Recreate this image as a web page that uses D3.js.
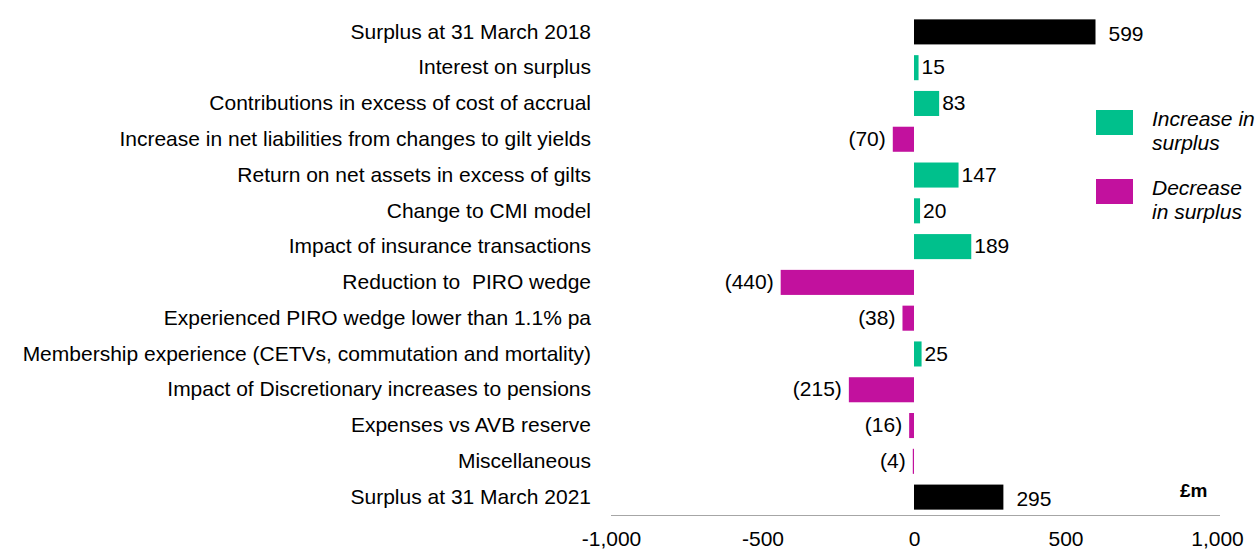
<!DOCTYPE html>
<meta charset="utf-8">
<style>
body { margin: 0; background: #fff; }
svg text { font-family: "Liberation Sans", Arial, sans-serif; fill: #000; }
.axis path { stroke: #a6a6a6; }
.axis text { font-size: 21px; }
</style>
<body>
<svg width="1256" height="550"></svg>
<script src="https://cdn.jsdelivr.net/npm/d3@7/dist/d3.min.js"></script>
<script>
// chart data
var categories = [
  "Surplus at 31 March 2018",
  "Interest on surplus",
  "Contributions in excess of cost of accrual",
  "Increase in net liabilities from changes to gilt yields",
  "Return on net assets in excess of gilts",
  "Change to CMI model",
  "Impact of insurance transactions",
  "Reduction to \u00a0PIRO wedge",
  "Experienced PIRO wedge lower than 1.1% pa",
  "Membership experience (CETVs, commutation and mortality)",
  "Impact of Discretionary increases to pensions",
  "Expenses vs AVB reserve",
  "Miscellaneous",
  "Surplus at 31 March 2021"
];
var values = [599, 15, 83, -70, 147, 20, 189, -440, -38, 25, -215, -16, -4, 295];
var totals = ["Surplus at 31 March 2018", "Surplus at 31 March 2021"];
var xTicks = [-1000, -500, 0, 500, 1000];
var legendItems = [
  {key: "up", lines: ["Increase in", "surplus"]},
  {key: "down", lines: ["Decrease", "in surplus"]}
];

var colors = {total: "#000000", up: "#00c08c", down: "#c2119e"};

var rows = categories.map(function(c, i) {
  var kind = totals.indexOf(c) >= 0 ? "total" : (values[i] < 0 ? "down" : "up");
  return {name: c, value: values[i], kind: kind};
});

var svg = d3.select("svg");

var x = d3.scaleLinear().domain([-1000, 1000]).range([611, 1217]);
var y = d3.scaleBand().domain(categories).range([14, 515])
    .paddingInner(0.3).paddingOuter(0.15);

var fmt = d3.format(",");
function valueLabel(v) { return v < 0 ? "(" + fmt(-v) + ")" : fmt(v); }

// x axis
svg.append("g")
    .attr("class", "axis")
    .attr("transform", "translate(0,515)")
    .call(d3.axisBottom(x).tickValues(xTicks).tickSize(0).tickPadding(16)
      .tickFormat(function(d) { return fmt(d).replace("\u2212", "-"); }))
    .call(function(g) { g.select(".domain").attr("d", "M" + x(-1000) + ",0.5H" + (x(1000) + 3)); });

// category labels
svg.append("g").selectAll("text")
  .data(rows)
  .enter().append("text")
    .attr("x", 591)
    .attr("y", function(d) { return y(d.name) + y.bandwidth() / 2; })
    .attr("dy", "0.32em")
    .attr("text-anchor", "end")
    .style("font-size", "21px")
    .text(function(d) { return d.name; });

// bars
svg.append("g").selectAll("rect")
  .data(rows)
  .enter().append("rect")
    .attr("x", function(d) { return x(Math.min(0, d.value)); })
    .attr("y", function(d) { return y(d.name); })
    .attr("width", function(d) { return Math.abs(x(d.value) - x(0)); })
    .attr("height", y.bandwidth())
    .attr("fill", function(d) { return colors[d.kind]; });

// value labels
svg.append("g").selectAll("text")
  .data(rows)
  .enter().append("text")
    .attr("x", function(d) {
      var gap = d.kind === "total" ? 13 : 3;
      return d.value < 0 ? x(d.value) - 7 : x(d.value) + gap;
    })
    .attr("y", function(d) { return y(d.name) + y.bandwidth() / 2 + (d.kind === "total" ? 2 : 0); })
    .attr("dy", "0.32em")
    .attr("text-anchor", function(d) { return d.value < 0 ? "end" : "start"; })
    .style("font-size", "21px")
    .text(function(d) { return valueLabel(d.value); });

// unit
svg.append("text")
    .attr("x", 1180)
    .attr("y", 497)
    .style("font-size", "19px")
    .style("font-weight", "bold")
    .text("\u00a3m");

// legend
var legend = svg.append("g").selectAll("g")
  .data(legendItems)
  .enter().append("g")
    .attr("transform", function(d, i) { return "translate(1096," + (110 + i * 69) + ")"; });

legend.append("rect")
    .attr("width", 37)
    .attr("height", 25)
    .attr("fill", function(d) { return colors[d.key]; });

legend.append("text")
    .attr("x", 56)
    .attr("y", 16)
    .style("font-size", "21px")
    .style("font-style", "italic")
    .selectAll("tspan")
    .data(function(d) { return d.lines; })
    .enter().append("tspan")
      .attr("x", 56)
      .attr("dy", function(d, i) { return i === 0 ? 0 : 24; })
      .text(function(d) { return d; });
</script>
</body>
